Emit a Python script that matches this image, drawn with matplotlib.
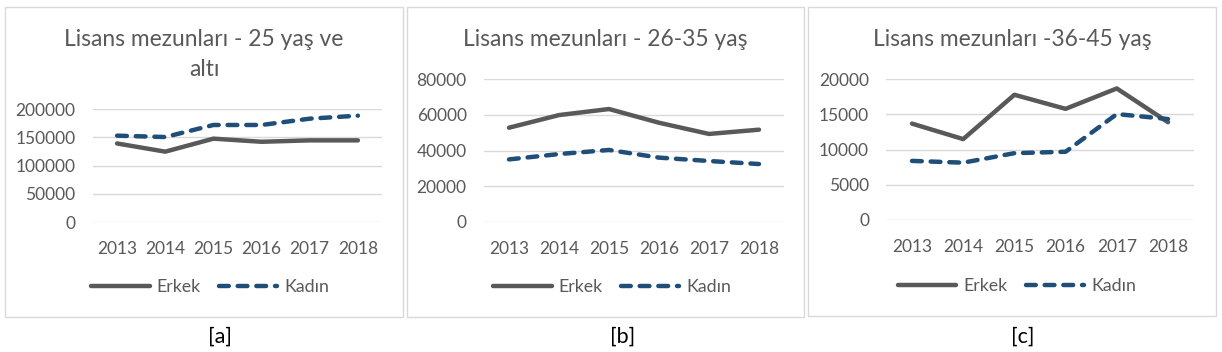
import matplotlib
matplotlib.use("Agg")
import matplotlib.pyplot as plt
from matplotlib.patches import Rectangle

years = ["2013", "2014", "2015", "2016", "2017", "2018"]

erkek_a = [139000, 124500, 147500, 142000, 144500, 144500]
kadin_a = [152800, 150400, 171700, 171700, 182900, 188200]

erkek_b = [52800, 59900, 63300, 55600, 49300, 51700]
kadin_b = [35000, 38000, 40300, 36000, 34100, 32400]

erkek_c = [13700, 11500, 17800, 15800, 18700, 13900]
kadin_c = [8400, 8150, 9500, 9700, 15060, 14350]

titles = ["Lisans mezunları - 25 yaş ve\naltı", "Lisans mezunları - 26-35 yaş", "Lisans mezunları -36-45 yaş"]
captions = ["[a]", "[b]", "[c]"]
legend_labels = ["Erkek", "Kadın"]
yticks = [[0, 50000, 100000, 150000, 200000],
          [0, 20000, 40000, 60000, 80000],
          [0, 5000, 10000, 15000, 20000]]

plt.rcParams['font.family'] = ['Lato', 'DejaVu Sans']

W, H = 1222, 352
fig = plt.figure(figsize=(W / 100, H / 100), dpi=100)
fig.patch.set_facecolor("white")

TXT = "#595959"
GRAY = "#595959"
BLUE = "#1F4E79"
GRID = "#D9D9D9"

def fx(px):
    return px / W

def fy(py):
    return 1 - py / H

# panel boxes (left, top, right, bottom) in px
boxes = [(5, 7, 403, 317), (407, 7, 804, 317), (808, 7, 1216, 316)]
# plot areas (left, right, top(ymax), bottom(0))
areas = [(93, 382, 109, 222), (484, 784, 79.3, 221.7), (886.4, 1193.6, 79.3, 220)]
title_y = [[39, 70], [40], [40]]
caption_x = [220, 623, 1023]
legend_x = [210, 612, 1017]
legend_y = [287, 287, 286]

data = [(erkek_a, kadin_a), (erkek_b, kadin_b), (erkek_c, kadin_c)]

for i in range(3):
    l, t, r, b = boxes[i]
    fig.patches.append(Rectangle((fx(l), fy(b)), fx(r - l), (b - t) / H,
                                 transform=fig.transFigure, fill=False,
                                 edgecolor="#D9D9D9", linewidth=1.0))
    al, ar, at, ab = areas[i]
    ax = fig.add_axes([fx(al), fy(ab), fx(ar - al), (ab - at) / H])
    ax.set_facecolor("none")
    er, ka = data[i]
    x = list(range(len(years)))
    ax.plot(x, er, color=GRAY, lw=3.2, solid_capstyle='round', solid_joinstyle='round', label=legend_labels[0])
    ax.plot(x, ka, color=BLUE, lw=3.2, dashes=(2.2, 2.0), dash_capstyle='round', dash_joinstyle='round', label=legend_labels[1])
    ax.set_xlim(-0.5, len(years) - 0.5)
    ax.set_ylim(yticks[i][0], yticks[i][-1])
    ax.set_yticks(yticks[i])
    ax.set_yticklabels([str(v) for v in yticks[i]])
    ax.set_xticks(x)
    ax.set_xticklabels(years)
    ax.grid(axis='y', color=GRID, lw=1.0)
    ax.set_axisbelow(True)
    for s in ax.spines.values():
        s.set_visible(False)
    ax.tick_params(axis='both', length=0, labelsize=12.5, colors=TXT)
    ax.tick_params(axis='y', pad=12.5)
    ax.tick_params(axis='x', pad=14)
    leg = ax.legend(loc='center', bbox_to_anchor=(fx(legend_x[i]), fy(legend_y[i])),
                    bbox_transform=fig.transFigure, ncol=2, frameon=False,
                    fontsize=12.8, handlelength=3.3, handletextpad=0.4, columnspacing=1.0)
    for tx in leg.get_texts():
        tx.set_color(TXT)
    cx = (l + r) / 2
    for j, line in enumerate(titles[i].split("\n")):
        fig.text(fx(cx), fy(title_y[i][j]), line, ha='center', va='center',
                 fontsize=16.4, color=TXT)
    fig.text(fx(caption_x[i]), fy(337), captions[i], ha='center', va='center',
             fontsize=15.5, color="#000000")

fig.savefig("out.png", dpi=100, facecolor="white")
